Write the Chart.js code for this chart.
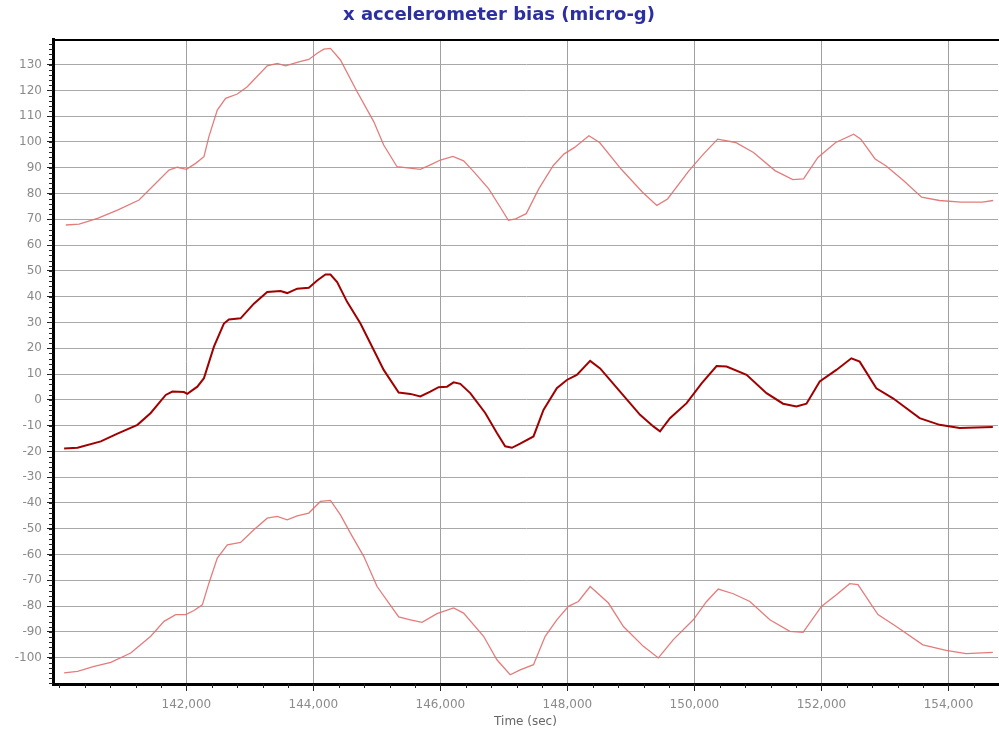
<!DOCTYPE html>
<html>
<head>
<meta charset="utf-8">
<script src="https://cdn.jsdelivr.net/npm/chart.js@4.4.1/dist/chart.umd.min.js"></script>
<style>
  html, body { margin: 0; padding: 0; background: #fff; }
  #wrap { width: 999px; height: 736px; }
</style>
</head>
<body>
<div id="wrap"><canvas id="bias"></canvas></div>
<script>
// upper band (light red)
var timeTop = [140102,140311,140601,140915,141255,141491,141726,141858,142000,142146,142277,142355,142487,142618,142802,142959,143273,143431,143561,143771,143928,144060,144164,144269,144426,144689,144950,145107,145317,145684,145841,146000,146197,146366,146535,146761,146958,147070,147183,147352,147549,147775,147944,148113,148338,148507,148845,149183,149408,149577,149915,150141,150366,150648,150930,151268,151549,151718,151944,152225,152507,152620,152845,153014,153296,153577,153859,154197,154535,154704];
var biasTop = [67.8,68.1,70.4,73.6,77.5,83.3,89.1,90.2,89.4,91.7,94.3,102.1,112.4,116.9,118.6,121.4,129.5,130.5,129.5,131.1,132.0,134.4,136.0,136.3,131.8,119.5,107.9,98.8,90.4,89.4,91.1,93.0,94.4,92.7,88.2,81.8,74.1,69.6,70.2,72.2,81.8,90.8,95.3,97.9,102.4,99.8,89.5,80.5,75.4,77.9,88.9,95.3,101.1,99.8,95.9,88.9,85.4,85.7,94.0,99.8,103.0,101.1,93.4,90.8,85.0,78.6,77.3,76.7,76.7,77.3];

// estimate (dark red)
var timeMid = [140075,140286,140653,140915,141230,141439,141675,141780,141962,142015,142173,142277,142434,142591,142670,142854,143063,143273,143483,143588,143745,143928,144060,144190,144269,144374,144531,144741,144950,145107,145343,145527,145684,145841,145972,146104,146208,146313,146470,146706,146890,147020,147126,147256,147466,147623,147833,147991,148148,148358,148515,148829,149144,149353,149458,149615,149877,150113,150349,150506,150821,151135,151396,151606,151764,151973,152235,152471,152602,152864,153126,153546,153860,154175,154699];
var biasMid = [-18.9,-18.6,-16.1,-13.1,-9.7,-5.1,1.9,3.2,3.0,2.3,5.1,8.4,20.6,29.6,31.2,31.6,37.3,41.8,42.2,41.4,43.1,43.5,46.3,48.6,48.6,45.7,38.0,29.6,19.3,11.6,2.8,2.3,1.3,3.2,4.9,5.1,6.8,6.2,2.6,-5.1,-12.9,-18.0,-18.6,-17.0,-14.2,-3.9,4.5,7.7,9.7,15.1,12.2,3.2,-5.8,-10.3,-12.2,-7.1,-1.3,6.4,13.1,12.9,9.7,2.6,-1.5,-2.6,-1.5,7.1,11.6,16.1,14.8,4.5,0.6,-7.1,-9.7,-10.9,-10.5];

// lower band (light red)
var timeLow = [140075,140286,140548,140810,141124,141439,141648,141832,141989,142120,142251,142355,142487,142645,142854,143063,143273,143431,143588,143745,143928,144111,144269,144426,144583,144793,145003,145343,145527,145711,145946,146208,146365,146680,146890,147099,147256,147466,147650,147833,148016,148173,148358,148646,148882,149196,149432,149668,149982,150192,150375,150611,150873,151187,151502,151711,152000,152235,152445,152575,152890,153178,153597,153964,154278,154699];
var biasLow = [-105.9,-105.3,-103.4,-101.8,-98.2,-91.7,-85.9,-83.3,-83.3,-81.7,-79.5,-71.1,-61.4,-56.2,-55.3,-50.4,-45.9,-45.2,-46.5,-45.0,-43.9,-39.4,-39.0,-44.6,-51.7,-60.7,-72.4,-84.2,-85.3,-86.3,-82.9,-80.7,-82.7,-91.7,-100.8,-106.6,-104.7,-102.7,-91.7,-85.3,-80.1,-78.2,-72.4,-78.8,-87.9,-95.6,-100.1,-93.0,-85.3,-78.2,-73.4,-75.2,-78.2,-85.3,-89.8,-90.2,-80.1,-75.6,-71.3,-71.7,-83.3,-87.9,-95.0,-97.2,-98.4,-97.9];

var xTicks = [142000,144000,146000,148000,150000,152000,154000];
var yTicks = [-100,-90,-80,-70,-60,-50,-40,-30,-20,-10,0,10,20,30,40,50,60,70,80,90,100,110,120,130];

function toPoints(xs, ys) {
  var pts = [];
  for (var i = 0; i < xs.length; i++) {
    pts.push({x: xs[i], y: ys[i]});
  }
  return pts;
}

// small tick marks along the left and bottom axes
var minorTicks = {
  id: 'minorTicks',
  afterDraw: function(chart) {
    var ctx = chart.ctx;
    var xs = chart.scales.x, ys = chart.scales.y;
    var area = chart.chartArea;
    ctx.save();
    ctx.strokeStyle = '#222';
    ctx.lineWidth = 1;
    ctx.beginPath();
    for (var v = -110; v <= 139; v += 2) {
      var py = Math.round(ys.getPixelForValue(v)) + 0.5;
      ctx.moveTo(area.left - 4, py);
      ctx.lineTo(area.left, py);
    }
    for (var t = 140000; t <= 154700; t += 400) {
      var px = Math.round(xs.getPixelForValue(t)) + 0.5;
      if (px < area.left) continue;
      ctx.moveTo(px, area.bottom);
      ctx.lineTo(px, area.bottom + 4);
    }
    ctx.stroke();
    ctx.restore();
  }
};

var ctx = document.getElementById('bias').getContext('2d');
var chart = new Chart(ctx, {
  type: 'line',
  data: {
    datasets: [
      {
        label: 'upper',
        data: toPoints(timeTop, biasTop),
        borderColor: 'rgba(225,110,110,0.9)',
        borderWidth: 1.3,
        pointRadius: 0,
        tension: 0
      },
      {
        label: 'bias',
        data: toPoints(timeMid, biasMid),
        borderColor: '#a00000',
        borderWidth: 2,
        pointRadius: 0,
        tension: 0
      },
      {
        label: 'lower',
        data: toPoints(timeLow, biasLow),
        borderColor: 'rgba(225,110,110,0.9)',
        borderWidth: 1.3,
        pointRadius: 0,
        tension: 0
      }
    ]
  },
  options: {
    responsive: true,
    maintainAspectRatio: false,
    animation: false,
    layout: { padding: { left: 0, right: 1, top: 0, bottom: 0 } },
    plugins: {
      legend: { display: false },
      tooltip: { enabled: false },
      title: {
        display: true,
        text: 'x accelerometer bias (micro-g)',
        color: '#2b2fa0',
        font: { family: 'DejaVu Sans', size: 18, weight: 'bold' },
        padding: { top: 5, bottom: 13 }
      }
    },
    scales: {
      x: {
        type: 'linear',
        min: 139900,
        max: 154780,
        afterBuildTicks: function(scale) {
          scale.ticks = xTicks.map(function(v) { return {value: v}; });
        },
        afterFit: function(scale) { scale.height = 52; },
        grid: { color: '#a0a0a0', lineWidth: 1, tickLength: 7, tickColor: '#222' },
        border: { color: '#000', width: 3 },
        ticks: {
          color: '#8a8a8a',
          font: { family: 'DejaVu Sans', size: 12 },
          padding: 7,
          maxRotation: 0,
          callback: function(v) { return v.toLocaleString('en-US'); }
        },
        title: {
          display: true,
          text: 'Time (sec)',
          color: '#666',
          font: { family: 'DejaVu Sans', size: 12 },
          padding: { top: 0, bottom: 7 }
        }
      },
      x2: {
        type: 'linear',
        position: 'top',
        min: 139900,
        max: 154780,
        afterFit: function(scale) { scale.height = 0; },
        grid: { display: false },
        ticks: { display: false },
        border: { color: '#000', width: 2 }
      },
      y: {
        type: 'linear',
        min: -110.2,
        max: 139.7,
        afterBuildTicks: function(scale) {
          scale.ticks = yTicks.map(function(v) { return {value: v}; });
        },
        afterFit: function(scale) { scale.width = 53; },
        grid: { color: '#a8a8a8', lineWidth: 1, tickLength: 6, tickColor: '#222' },
        border: { color: '#000', width: 3 },
        ticks: {
          color: '#8a8a8a',
          font: { family: 'DejaVu Sans', size: 12 },
          padding: 5
        }
      }
    }
  },
  plugins: [minorTicks]
});
</script>
</body>
</html>
